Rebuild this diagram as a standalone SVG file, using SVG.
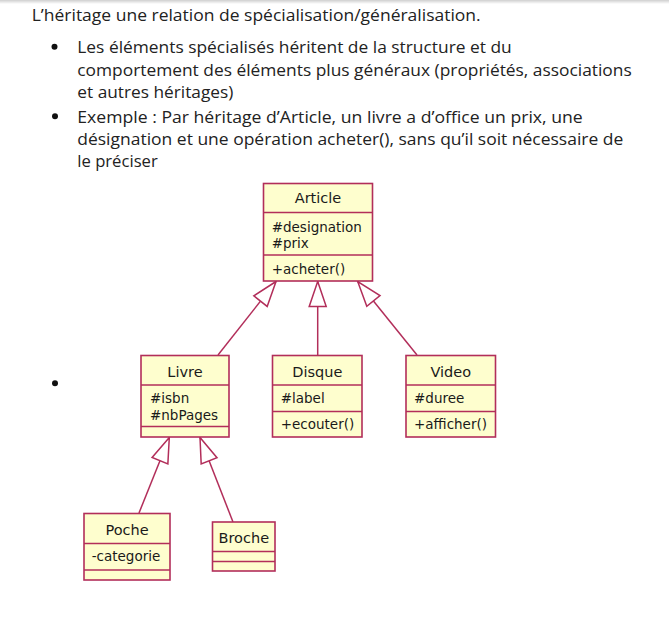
<svg xmlns="http://www.w3.org/2000/svg" width="669" height="638" viewBox="0 0 669 638">
<defs>
<linearGradient id="topbar" x1="0" y1="0" x2="0" y2="1">
<stop offset="0" stop-color="#cfcfcf"/>
<stop offset="1" stop-color="#ffffff"/>
</linearGradient>
<marker id="gen" markerUnits="userSpaceOnUse" markerWidth="28" markerHeight="20" viewBox="0 0 28 20" refX="27" refY="10" orient="auto">
<path d="M27,10 L2,1.5 L2,18.5 Z" fill="#ffffff" stroke="#B22E5A" stroke-width="1.5"/>
</marker>
<style>
.t{font-family:"Open Sans","Liberation Sans",sans-serif;font-size:17px;fill:#222222}
.box{fill:#FEFECE;stroke:#B22E5A;stroke-width:1.6}
.sep{stroke:#B22E5A;stroke-width:1.6}
.name{font-family:"DejaVu Sans",sans-serif;font-size:14.5px;fill:#1a1a1a;text-anchor:middle}
.attr{font-family:"DejaVu Sans",sans-serif;font-size:13.5px;fill:#1a1a1a}
.conn line{stroke:#B22E5A;stroke-width:1.5;fill:none;marker-end:url(#gen)}
</style>
</defs>
<rect x="0" y="0" width="669" height="638" fill="#ffffff"/>
<rect x="0" y="0" width="669" height="4" fill="url(#topbar)"/>
<g id="text">
<text class="t" x="31.7" y="20.7" textLength="449" lengthAdjust="spacingAndGlyphs">L’héritage une relation de spécialisation/généralisation.</text>
<circle cx="54.5" cy="46.8" r="3" fill="#111"/>
<text class="t" x="77.3" y="52.7" textLength="434.4" lengthAdjust="spacingAndGlyphs">Les éléments spécialisés héritent de la structure et du</text>
<text class="t" x="77.3" y="75.5" textLength="554.4" lengthAdjust="spacingAndGlyphs">comportement des éléments plus généraux (propriétés, associations</text>
<text class="t" x="77.3" y="98.3" textLength="156" lengthAdjust="spacingAndGlyphs">et autres héritages)</text>
<circle cx="55" cy="116.3" r="3" fill="#111"/>
<text class="t" x="77.3" y="123" textLength="505.4" lengthAdjust="spacingAndGlyphs">Exemple : Par héritage d’Article, un livre a d’office un prix, une</text>
<text class="t" x="77.3" y="144.8" textLength="546" lengthAdjust="spacingAndGlyphs">désignation et une opération acheter(), sans qu’il soit nécessaire de</text>
<text class="t" x="77.3" y="166.7" textLength="80.4" lengthAdjust="spacingAndGlyphs">le préciser</text>
<circle cx="55" cy="383.3" r="3" fill="#111"/>
</g>
<g id="connectors" class="conn">
<line x1="218" y1="355" x2="276" y2="281.5"/>
<line x1="317.7" y1="355" x2="317.7" y2="281.5"/>
<line x1="417" y1="355" x2="357.7" y2="281.5"/>
<line x1="139" y1="513" x2="169.3" y2="437.5"/>
<line x1="233" y1="522" x2="200" y2="437.5"/>
</g>
<g id="Article">
<rect class="box" x="263.5" y="183.5" width="109" height="97.5"/>
<line class="sep" x1="263.5" y1="212.5" x2="372.5" y2="212.5"/>
<line class="sep" x1="263.5" y1="255" x2="372.5" y2="255"/>
<text class="name" x="318" y="203.3">Article</text>
<text class="attr" x="271.7" y="231.7">#designation</text>
<text class="attr" x="271.7" y="247.7">#prix</text>
<text class="attr" x="271.7" y="274">+acheter()</text>
</g>
<g id="Livre">
<rect class="box" x="141" y="355.5" width="88" height="81.5"/>
<line class="sep" x1="141" y1="385" x2="229" y2="385"/>
<line class="sep" x1="141" y1="426.5" x2="229" y2="426.5"/>
<text class="name" x="185" y="376.7">Livre</text>
<text class="attr" x="150" y="403.3">#isbn</text>
<text class="attr" x="150" y="420">#nbPages</text>
</g>
<g id="Disque">
<rect class="box" x="272.5" y="355.5" width="89.5" height="81.5"/>
<line class="sep" x1="272.5" y1="385" x2="362" y2="385"/>
<line class="sep" x1="272.5" y1="411.5" x2="362" y2="411.5"/>
<text class="name" x="317.3" y="376.7">Disque</text>
<text class="attr" x="280.7" y="403.3">#label</text>
<text class="attr" x="280.7" y="429.3">+ecouter()</text>
</g>
<g id="Video">
<rect class="box" x="406" y="355.5" width="89.5" height="81.5"/>
<line class="sep" x1="406" y1="385" x2="495.5" y2="385"/>
<line class="sep" x1="406" y1="411.5" x2="495.5" y2="411.5"/>
<text class="name" x="450.8" y="376.7">Video</text>
<text class="attr" x="414" y="403.3">#duree</text>
<text class="attr" x="414" y="429.3">+afficher()</text>
</g>
<g id="Poche">
<rect class="box" x="84" y="513.5" width="86" height="66.5"/>
<line class="sep" x1="84" y1="543.5" x2="170" y2="543.5"/>
<line class="sep" x1="84" y1="570" x2="170" y2="570"/>
<text class="name" x="127" y="535">Poche</text>
<text class="attr" x="91.7" y="561">-categorie</text>
</g>
<g id="Broche">
<rect class="box" x="212.5" y="522" width="62.5" height="49"/>
<line class="sep" x1="212.5" y1="551.5" x2="275" y2="551.5"/>
<line class="sep" x1="212.5" y1="561.5" x2="275" y2="561.5"/>
<text class="name" x="243.8" y="542.7">Broche</text>
</g>
</svg>
